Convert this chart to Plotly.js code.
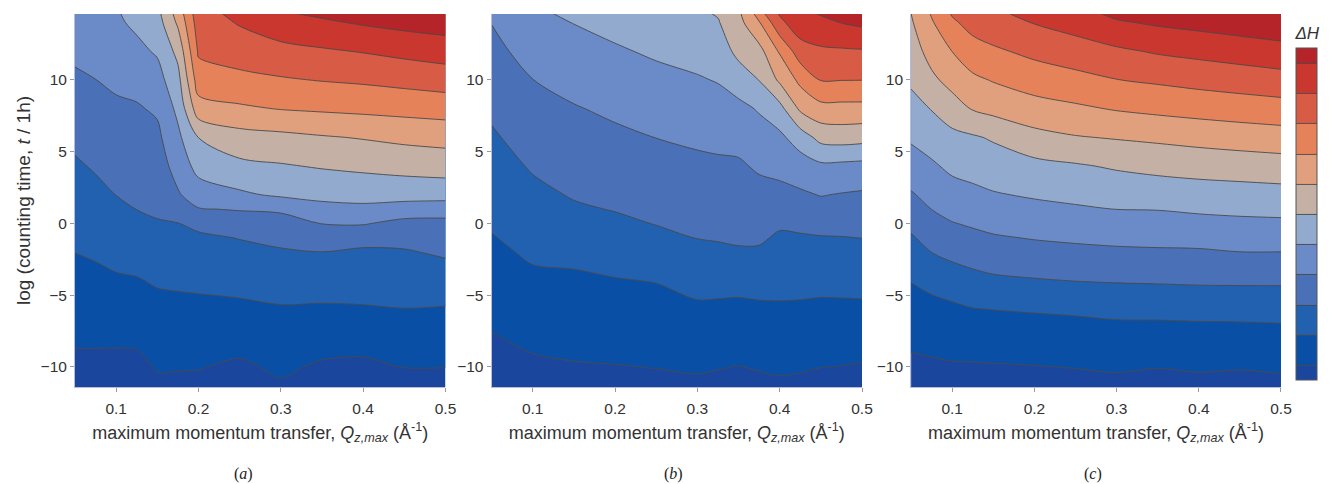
<!DOCTYPE html>
<html><head><meta charset="utf-8">
<script src="https://cdn.plot.ly/plotly-3.0.1.min.js"></script>
<style>html,body{margin:0;padding:0;background:#fff}</style>
</head><body>
<div id="chart" style="width:1332px;height:484px"></div>
<script>
// y rows: log(counting time)
const logT = [-12,-10,-8,-6,-4,-2,-1,0,1,2,4,6,8,10,12,14,15];

// panel (a)
const qzA = [0.05,0.075,0.1,0.125,0.15,0.175,0.2,0.25,0.3,0.35,0.4,0.45,0.5];
const dHa = [
 [0.50,0.45,0.40,0.37,0.73,0.70,0.67,0.38,0.77,0.38,0.30,0.55,0.53],
 [0.80,0.78,0.75,0.76,1.07,1.05,1.04,0.86,1.15,0.88,0.81,1.02,1.01],
 [1.11,1.12,1.13,1.16,1.40,1.41,1.41,1.33,1.54,1.38,1.36,1.50,1.47],
 [1.41,1.45,1.51,1.55,1.73,1.76,1.78,1.81,1.92,1.88,1.92,1.98,1.93],
 [1.71,1.78,1.89,1.94,2.09,2.14,2.18,2.29,2.40,2.43,2.40,2.45,2.52],
 [2.01,2.11,2.26,2.36,2.52,2.56,2.62,2.77,2.90,2.99,2.86,2.92,3.13],
 [2.15,2.28,2.44,2.57,2.73,2.77,2.84,3.03,3.24,3.50,3.31,3.28,3.44],
 [2.30,2.44,2.63,2.79,2.95,2.98,3.22,3.53,3.64,4.02,4.07,3.72,3.75],
 [2.45,2.61,2.81,3.01,3.10,3.43,3.95,4.06,4.14,4.71,4.79,4.56,4.42],
 [2.59,2.77,3.01,3.13,3.24,3.90,4.49,4.84,5.15,5.25,5.32,5.38,5.41],
 [2.88,3.09,3.28,3.39,3.52,4.38,5.34,5.77,5.92,6.08,6.21,6.33,6.42],
 [3.20,3.39,3.56,3.65,3.79,4.79,6.01,6.62,6.75,6.92,7.06,7.23,7.35],
 [3.52,3.70,3.85,3.91,4.13,5.23,7.57,7.85,8.04,8.14,8.23,8.32,8.42],
 [3.85,3.99,4.16,4.30,4.63,5.68,8.52,8.75,8.91,9.04,9.14,9.29,9.45],
 [4.18,4.35,4.50,4.77,5.11,6.27,9.13,9.44,9.67,9.88,10.05,10.26,10.45],
 [4.50,4.70,4.85,5.18,5.57,7.16,9.49,10.08,10.65,10.85,11.10,11.30,11.45],
 [4.66,4.87,4.97,5.27,5.79,7.56,9.67,10.48,11.05,11.35,11.60,11.80,11.95]
];

// panel (b)
const qzB = [0.05,0.1,0.15,0.2,0.25,0.3,0.325,0.35,0.375,0.4,0.425,0.45,0.475,0.5];
const dHb = [
 [0.37,0.52,0.64,0.64,0.68,0.72,0.65,0.58,0.67,0.73,0.69,0.61,0.56,0.48],
 [0.65,0.85,0.94,0.97,1.02,1.09,1.04,0.98,1.06,1.12,1.08,1.01,0.98,0.93],
 [0.94,1.17,1.24,1.30,1.35,1.47,1.43,1.38,1.45,1.50,1.47,1.41,1.40,1.38],
 [1.23,1.50,1.55,1.62,1.68,1.85,1.82,1.79,1.84,1.88,1.86,1.82,1.82,1.83],
 [1.52,1.82,1.85,1.95,2.03,2.29,2.30,2.29,2.33,2.28,2.27,2.25,2.27,2.29],
 [1.81,2.14,2.22,2.38,2.54,2.78,2.84,2.91,2.89,2.68,2.69,2.72,2.74,2.76],
 [1.95,2.30,2.44,2.61,2.79,3.02,3.06,3.11,3.12,2.88,2.91,2.95,2.97,3.01],
 [2.09,2.46,2.67,2.83,3.03,3.17,3.22,3.26,3.31,3.12,3.19,3.29,3.29,3.29],
 [2.22,2.62,2.89,3.04,3.19,3.33,3.38,3.42,3.51,3.42,3.53,3.66,3.62,3.59],
 [2.35,2.78,3.07,3.20,3.35,3.49,3.54,3.57,3.71,3.73,3.86,4.04,3.95,3.88],
 [2.62,3.09,3.36,3.51,3.68,3.81,3.85,3.88,4.12,4.28,4.53,4.81,4.76,4.70],
 [2.88,3.39,3.65,3.83,4.01,4.15,4.22,4.28,4.58,4.79,5.48,6.32,6.44,6.36],
 [3.16,3.69,3.94,4.16,4.37,4.54,4.64,4.73,5.09,5.67,7.18,7.68,7.69,7.69],
 [3.44,3.99,4.29,4.53,4.74,4.92,5.05,5.50,6.02,7.17,8.24,9.04,9.02,9.01],
 [3.73,4.36,4.65,4.89,5.13,5.33,5.49,6.25,6.67,8.11,9.53,9.84,9.87,9.91],
 [4.02,4.74,5.02,5.28,5.57,5.75,5.93,6.67,7.91,9.75,10.63,10.76,11.02,11.20],
 [4.17,4.93,5.20,5.48,5.79,5.96,6.15,6.88,8.90,10.30,10.95,11.25,11.50,11.87]
];

// panel (c)
const qzC = [0.05,0.075,0.1,0.125,0.15,0.2,0.25,0.3,0.35,0.4,0.45,0.5];
const dHc = [
 [0.39,0.41,0.45,0.38,0.40,0.44,0.50,0.59,0.46,0.57,0.49,0.59],
 [0.80,0.85,0.91,0.91,0.93,0.97,1.03,1.10,1.03,1.10,1.06,1.13],
 [1.20,1.28,1.36,1.43,1.47,1.51,1.55,1.62,1.59,1.63,1.62,1.66],
 [1.61,1.72,1.82,1.96,2.01,2.07,2.13,2.21,2.24,2.26,2.29,2.31],
 [2.03,2.26,2.49,2.70,2.83,2.93,3.01,3.06,3.09,3.13,3.14,3.14],
 [2.61,3.01,3.26,3.42,3.56,3.69,3.77,3.84,3.88,3.88,3.99,3.99],
 [2.90,3.33,3.61,3.77,3.91,4.05,4.15,4.23,4.26,4.35,4.40,4.41],
 [3.22,3.67,3.96,4.11,4.25,4.41,4.52,4.62,4.65,4.74,4.80,4.83],
 [3.57,4.01,4.29,4.44,4.59,4.76,4.89,5.01,5.03,5.13,5.20,5.25],
 [3.91,4.29,4.61,4.77,4.93,5.10,5.23,5.37,5.44,5.54,5.60,5.66],
 [4.54,4.86,5.21,5.35,5.49,5.72,5.90,6.11,6.28,6.39,6.47,6.56],
 [5.14,5.44,5.75,5.89,6.11,6.69,6.94,7.07,7.19,7.33,7.46,7.57],
 [5.68,6.04,6.54,7.07,7.30,7.63,7.84,8.07,8.23,8.37,8.49,8.60],
 [6.15,6.79,7.35,7.81,8.06,8.44,8.70,8.98,9.14,9.31,9.46,9.62],
 [6.52,7.38,8.01,8.58,8.84,9.24,9.54,9.83,10.10,10.28,10.46,10.64],
 [6.89,7.90,8.83,9.36,9.62,10.04,10.39,10.89,11.13,11.30,11.48,11.65],
 [7.07,8.20,9.25,9.76,9.95,10.40,10.80,11.40,11.60,11.80,11.95,12.10]
];

const bandColors = ['#1b469e','#0a4fa6','#2260b0','#4a70b8','#6b8bc8','#93aacf',
                    '#c4b0a4','#e0a07e','#e6825a','#d75b45','#c9372f','#b52429'];
const xTicks = [0.1,0.2,0.3,0.4,0.5];
const yTicks = [-10,-5,0,5,10];
const panelLabels = ['(<i>a</i>)','(<i>b</i>)','(<i>c</i>)'];
const xTitle = 'maximum momentum transfer, <i>Q</i><sub><i>z,max</i></sub> (Å<sup>-1</sup>)';
const yTitle = 'log (counting time, <i>t</i> / 1h)';

const cscale = bandColors.map((c,i)=>[i/(bandColors.length-1), c]);
const FONT = 'Liberation Sans, Arial, Helvetica, sans-serif';

function trace(x, z, xa, ya, showscale){
  return {
    type:'contour', x:x, y:logT, z:z, xaxis:xa, yaxis:ya,
    autocontour:false,
    contours:{start:1, end:11, size:1, coloring:'fill', showlines:true},
    line:{color:'#4a4a4a', width:0.9, smoothing:0.9},
    colorscale:cscale, zmin:0.5, zmax:11.5,
    showscale:showscale, hoverinfo:'skip',
    colorbar:{
      x:1.0124, xanchor:'left', xpad:0, y:0.0188, yanchor:'bottom', ypad:0,
      len:0.955, lenmode:'fraction', thickness:21, thicknessmode:'pixels',
      outlinewidth:1, outlinecolor:'#555', borderwidth:0,
      showticklabels:false, ticks:'',
      title:{text:'<i>ΔH</i>', side:'top', font:{family:FONT, size:17, color:'#333'}}
    }
  };
}

const data = [
  trace(qzA, dHa, 'x', 'y', false),
  trace(qzB, dHb, 'x2', 'y2', false),
  trace(qzC, dHc, 'x3', 'y3', true)
];

function xax(dom, anchor){
  return {domain:dom, anchor:anchor, range:[0.05,0.5], tickvals:xTicks, ticktext:['0.1','0.2','0.3','0.4','0.5'],
    ticks:'outside', ticklen:4, tickcolor:'#999', tickwidth:1, ticklabelstandoff:3,
    showline:true, linecolor:'#b4bce0', linewidth:1, showgrid:false, zeroline:false,
    tickfont:{family:FONT, size:15.5, color:'#333'},
    title:{text:xTitle, font:{family:FONT, size:18, color:'#333'}, standoff:10}};
}
function yax(anchor, withTitle){
  const a = {anchor:anchor, range:[-11.4,14.6], tickvals:yTicks,
    ticks:'outside', ticklen:4, tickcolor:'#999', tickwidth:1,
    showline:true, linecolor:'#b4bce0', linewidth:1, showgrid:false, zeroline:false,
    tickfont:{family:FONT, size:15.5, color:'#333'}};
  if(withTitle) a.title = {text:yTitle, font:{family:FONT, size:19, color:'#333'}, standoff:4};
  return a;
}

const layout = {
  width:1332, height:484,
  margin:{l:75, r:43, t:14, b:97},
  paper_bgcolor:'#fff', plot_bgcolor:'#fff',
  showlegend:false,
  xaxis:xax([0,0.3072],'y'), yaxis:yax('x',true),
  xaxis2:xax([0.3454,0.6526],'y2'), yaxis2:yax('x2',false),
  xaxis3:xax([0.6933,1.0],'y3'), yaxis3:yax('x3',false),
  annotations:[0.140,0.4959,0.8443].map((xp,i)=>({
    xref:'paper', yref:'paper', x:xp, y:-0.233, xanchor:'center', yanchor:'middle',
    showarrow:false, text:panelLabels[i],
    font:{family:'Liberation Serif, Times New Roman, serif', size:16, color:'#222'}
  }))
};

Plotly.newPlot('chart', data, layout, {staticPlot:true, displayModeBar:false});
</script>
</body></html>
